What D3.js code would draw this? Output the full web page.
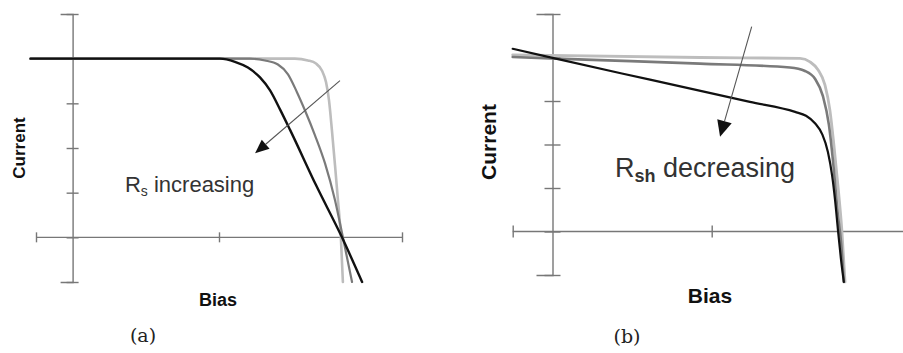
<!DOCTYPE html>
<html>
<head>
<meta charset="utf-8">
<script src="https://cdn.jsdelivr.net/npm/d3@7"></script>
<style>
  body { margin: 0; background: #fff; }
  svg { display: block; }
</style>
</head>
<body>
<svg id="chart" width="903" height="353"></svg>
<script>
// Shared axis ticks (arbitrary units, no tick labels drawn)
const biasTicks = [-0.2, 0.8, 1.8];
const currentTicks = [-1, 0, 1, 2, 3, 4, 5];

// (a) I-V curves for increasing series resistance
const rsLowBias = [-0.23, 1.215, 1.286, 1.330, 1.363, 1.385, 1.401, 1.417, 1.434, 1.450, 1.466, 1.477];
const rsLowCurrent = [4, 4, 3.96, 3.89, 3.73, 3.47, 3.07, 2.40, 1.61, 0.83, 0, -1.0];
const rsMidBias = [-0.23, 0.969, 1.051, 1.122, 1.177, 1.226, 1.270, 1.324, 1.379, 1.434, 1.477, 1.527];
const rsMidCurrent = [4, 4, 3.96, 3.87, 3.65, 3.25, 2.84, 2.29, 1.66, 0.83, 0, -1.0];
const rsHighBias = [-0.23, 0.805, 0.887, 0.958, 1.024, 1.079, 1.134, 1.189, 1.330, 1.472, 1.582];
const rsHighCurrent = [4, 4, 3.93, 3.80, 3.58, 3.29, 2.86, 2.40, 1.17, 0, -1.0];

// (b) I-V curves for decreasing shunt resistance
const rshHighBias = [-0.2, 0.741, 1.244, 1.294, 1.334, 1.369, 1.394, 1.414, 1.434, 1.454, 1.470];
const rshHighCurrent = [4.06, 4.0, 3.98, 3.90, 3.72, 3.37, 2.79, 1.99, 1.07, 0.03, -1.16];
const rshMidBias = [-0.2, 0.239, 0.741, 1.193, 1.269, 1.319, 1.359, 1.389, 1.414, 1.434, 1.449, 1.464];
const rshMidCurrent = [4.01, 3.94, 3.86, 3.77, 3.69, 3.51, 3.11, 2.45, 1.41, 0.38, -0.20, -1.16];
const rshLowBias = [-0.2, 0.0, 0.49, 0.992, 1.219, 1.274, 1.319, 1.355, 1.384, 1.405, 1.420, 1.435, 1.449, 1.464];
const rshLowCurrent = [4.2, 3.99, 3.49, 2.98, 2.75, 2.66, 2.49, 2.24, 1.83, 1.29, 0.72, 0.01, -0.61, -1.16];

// Trend arrows: [start, tip] in (bias, current)
const arrowA = [[1.461, 3.51], [0.997, 1.88]];
const arrowB = [[1.001, 4.71], [0.842, 2.18]];

const svg = d3.select("#chart");
const SANS = "'Liberation Sans', Arial, sans-serif";
const SERIF = "'DejaVu Serif', 'Liberation Serif', serif";

function zip(xs, ys) { return xs.map((x, i) => [x, ys[i]]); }

function drawPanel(cfg) {
  const g = svg.append("g");
  const x = d3.scaleLinear().domain([-0.2, 1.8]).range(cfg.xRange);
  const y = d3.scaleLinear().domain([-1, 5]).range(cfg.yRange);

  const axisColor = "#777";

  // horizontal (bias) axis through zero current, ticks crossing the line
  const xAxis = d3.axisBottom(x).tickValues(biasTicks).tickFormat("").tickSizeOuter(0).tickSize(cfg.xTick * 2);
  const gx = g.append("g").attr("transform", `translate(0,${y(0)})`).call(xAxis);
  gx.select(".domain").attr("d", `M${x(-0.2)},0H${cfg.xAxisEnd}`);
  gx.selectAll(".tick line").attr("y1", -cfg.xTick).attr("y2", cfg.xTick);

  // vertical (current) axis through zero bias
  const yAxis = d3.axisLeft(y).tickValues(currentTicks).tickFormat("").tickSizeOuter(0).tickSize(cfg.yTick * 2);
  const gy = g.append("g").attr("transform", `translate(${x(0)},0)`).call(yAxis);
  gy.selectAll(".tick line").attr("x1", -cfg.yTick).attr("x2", cfg.yTick);

  g.selectAll(".domain, .tick line").attr("stroke", axisColor).attr("stroke-width", 1.4);

  const line = d3.line().x(d => x(d[0])).y(d => y(d[1])).curve(d3.curveMonotoneX);

  cfg.series.forEach(s => {
    g.append("path")
      .attr("d", line(zip(s.bias, s.current)))
      .attr("fill", "none")
      .attr("stroke", s.color)
      .attr("stroke-width", s.width)
      .attr("stroke-linejoin", "round")
      .attr("stroke-linecap", "round");
  });

  // trend arrow
  const [p0, p1] = cfg.arrow.map(d => [x(d[0]), y(d[1])]);
  const dx = p1[0] - p0[0], dy = p1[1] - p0[1];
  const len = Math.hypot(dx, dy);
  const ux = dx / len, uy = dy / len;
  const L = cfg.head[0], W = cfg.head[1] / 2;
  const bx = p1[0] - ux * L, by = p1[1] - uy * L;
  g.append("line")
    .attr("x1", p0[0]).attr("y1", p0[1]).attr("x2", bx).attr("y2", by)
    .attr("stroke", "#555").attr("stroke-width", 1.1);
  g.append("path")
    .attr("d", `M${p1[0]},${p1[1]}L${bx - uy * W},${by + ux * W}L${bx + uy * W},${by - ux * W}Z`)
    .attr("fill", "#111");

  // annotation
  const t = g.append("text")
    .attr("x", x(cfg.note.at[0])).attr("y", y(cfg.note.at[1]))
    .attr("font-family", SANS).attr("font-size", cfg.note.size).attr("fill", "#333");
  t.append("tspan").text("R");
  t.append("tspan").attr("dy", cfg.note.subDy).attr("font-size", cfg.note.subSize)
    .attr("font-weight", cfg.note.subWeight).text(cfg.note.sub);
  t.append("tspan").attr("dy", -cfg.note.subDy).text(cfg.note.text);

  // axis titles
  g.append("text")
    .attr("transform", `translate(${cfg.yTitle[0]},${cfg.yTitle[1]}) rotate(-90)`)
    .attr("text-anchor", "middle")
    .attr("font-family", SANS).attr("font-weight", "bold").attr("font-size", cfg.titleSize)
    .attr("fill", "#111").text("Current");
  g.append("text")
    .attr("x", cfg.xTitle[0]).attr("y", cfg.xTitle[1])
    .attr("text-anchor", "middle")
    .attr("font-family", SANS).attr("font-weight", "bold").attr("font-size", cfg.xTitleSize)
    .attr("fill", "#111").text("Bias");

  // panel caption
  g.append("text")
    .attr("x", cfg.caption[0]).attr("y", cfg.caption[1])
    .attr("text-anchor", "middle")
    .attr("font-family", SERIF).attr("font-size", 19).attr("fill", "#222")
    .text(cfg.captionText);
}

drawPanel({
  xRange: [36, 402], yRange: [282, 14], xAxisEnd: 402,
  xTick: 5, yTick: 6,
  series: [
    { bias: rsLowBias, current: rsLowCurrent, color: "#bdbdbd", width: 2.6 },
    { bias: rsMidBias, current: rsMidCurrent, color: "#7a7a7a", width: 2.2 },
    { bias: rsHighBias, current: rsHighCurrent, color: "#111", width: 2.4 }
  ],
  arrow: arrowA, head: [14, 12],
  note: { at: [0.286, 1.01], size: 22, sub: "s", subSize: 14, subDy: 4, subWeight: "normal", text: " increasing" },
  yTitle: [25, 148], xTitle: [218, 306], titleSize: 17, xTitleSize: 18,
  caption: [143, 342], captionText: "(a)"
});

drawPanel({
  xRange: [512.7, 910.7], yRange: [275, 14], xAxisEnd: 910,
  xTick: 6, yTick: 8,
  series: [
    { bias: rshHighBias, current: rshHighCurrent, color: "#bdbdbd", width: 2.8 },
    { bias: rshMidBias, current: rshMidCurrent, color: "#7a7a7a", width: 2.6 },
    { bias: rshLowBias, current: rshLowCurrent, color: "#111", width: 2.2 }
  ],
  arrow: arrowB, head: [16, 15],
  note: { at: [0.314, 1.26], size: 27, sub: "sh", subSize: 18, subDy: 5, subWeight: "bold", text: " decreasing" },
  yTitle: [496, 142], xTitle: [710, 303], titleSize: 21, xTitleSize: 21,
  caption: [627, 343], captionText: "(b)"
});
</script>
</body>
</html>
